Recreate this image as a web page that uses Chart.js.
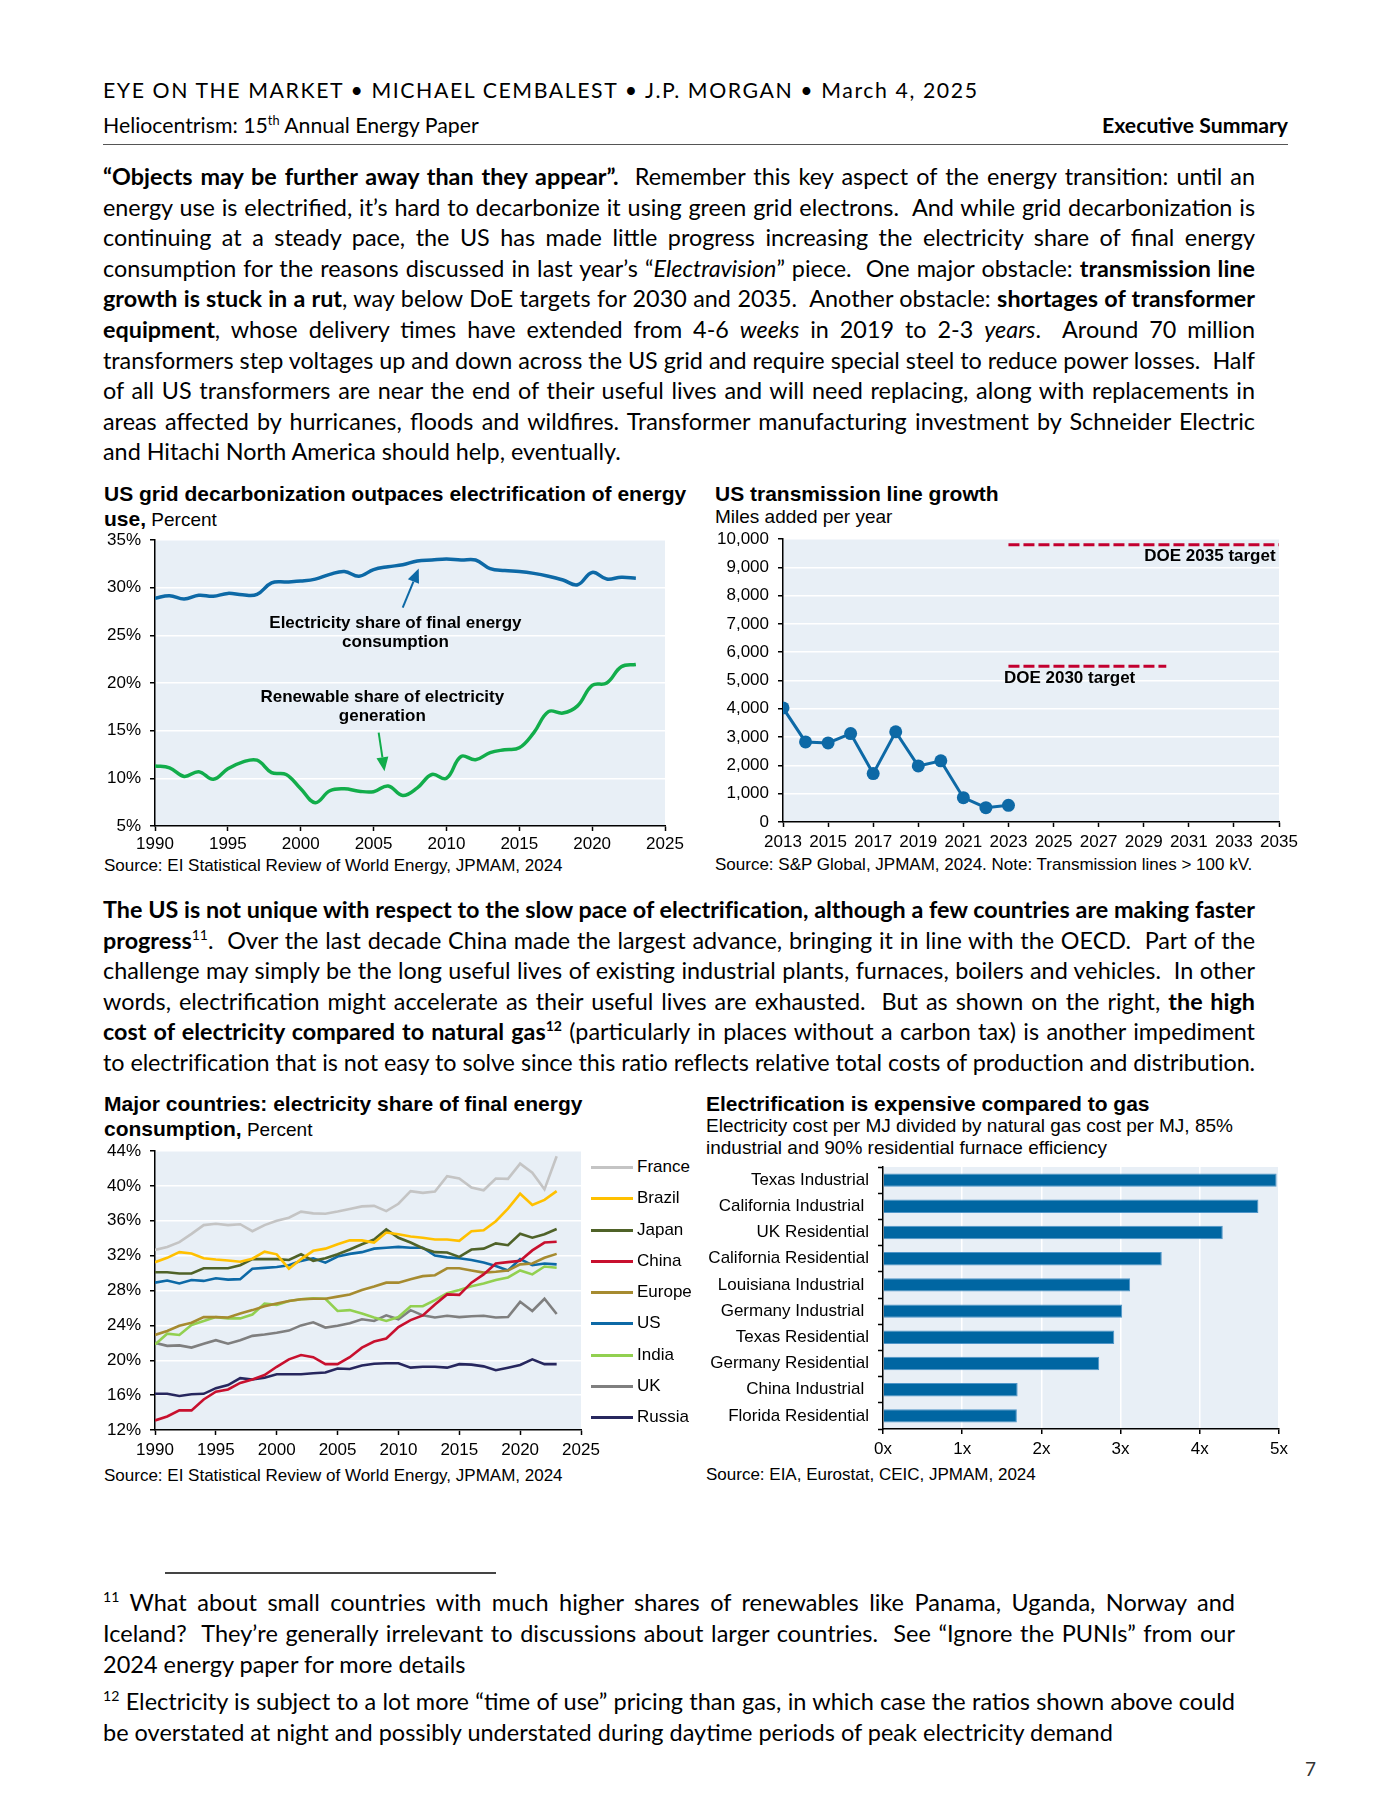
<!DOCTYPE html>
<html>
<head>
<meta charset="utf-8">
<script src="https://cdn.jsdelivr.net/npm/chart.js@4.4.1/dist/chart.umd.min.js"></script>
<style>
  html, body { margin: 0; padding: 0; background: #fff; }
  #pagina { position: relative; width: 1400px; height: 1812px; overflow: hidden; font-family: Lato, "Open Sans", sans-serif; color: #000; }
  .abs { position: absolute; white-space: nowrap; }
  .ln { position: absolute; left: 103px; height: 30px; line-height: 30px; white-space: nowrap; text-align: justify; text-align-last: justify; font-size: 20px; }
  .ln.last { text-align-last: left; }
  .ln b { font-weight: 700; }
  .tit { position: absolute; white-space: nowrap; font-family: "Liberation Sans", Arial, sans-serif; font-size: 21px; line-height: 25px; }
  .sub { font-size: 19px; font-weight: normal; }
  .src { position: absolute; white-space: nowrap; font-family: "Liberation Sans", Arial, sans-serif; font-size: 17px; line-height: 20px; }
  sup { font-size: 0.6em; line-height: 0; vertical-align: 0.65em; }
  canvas { position: absolute; }
  .leg { position: absolute; white-space: nowrap; font-family: "Liberation Sans", Arial, sans-serif; font-size: 17px; line-height: 20px; }
  .leg i { position: absolute; left: -46px; top: 9px; width: 42px; height: 3px; }
</style>
</head>
<body>
<div id="pagina">
  <div class="abs" id="cab1" style="left:103px;top:79px;line-height:22px;font-size:17px;">EYE ON THE MARKET • MICHAEL CEMBALEST • J.P. MORGAN • March 4, 2025</div>
  <div class="abs" id="cab2" style="left:103px;top:114px;line-height:22px;font-size:18px;">Heliocentrism: 15<sup>th</sup> Annual Energy Paper</div>
  <div class="abs" id="cab3" style="right:112px;top:114px;line-height:22px;font-size:18px;font-weight:700;">Executive Summary</div>
  <div class="abs" style="left:103px;top:143.5px;width:1185px;height:1.5px;background:#555;"></div>

  <div class="tit" style="left:104px;top:480.5px;"><b>US grid decarbonization outpaces electrification of energy<br>use,</b><span class="sub"> Percent</span></div>
  <div class="tit" style="left:715px;top:480.5px;"><b>US transmission line growth</b></div>
  <div class="tit sub" style="left:715px;top:503.5px;">Miles added per year</div>
  <div class="src" style="left:104px;top:856px;">Source: EI Statistical Review of World Energy, JPMAM, 2024</div>
  <div class="src" style="left:715px;top:855px;">Source: S&amp;P Global, JPMAM, 2024. Note: Transmission lines &gt; 100 kV.</div>

  <div class="tit" style="left:104px;top:1090.5px;"><b>Major countries: electricity share of final energy<br>consumption,</b><span class="sub"> Percent</span></div>
  <div class="tit" style="left:706px;top:1090.5px;"><b>Electrification is expensive compared to gas</b></div>
  <div class="tit sub" style="left:706px;top:1115px;line-height:22px;">Electricity cost per MJ divided by natural gas cost per MJ, 85%<br>industrial and 90% residential furnace efficiency</div>
  <div class="src" style="left:104px;top:1466px;">Source: EI Statistical Review of World Energy, JPMAM, 2024</div>
  <div class="src" style="left:706px;top:1465px;">Source: EIA, Eurostat, CEIC, JPMAM, 2024</div>

  <canvas id="grafica1" width="600" height="330" style="left:95px;top:528px;"></canvas>
  <canvas id="grafica2" width="600" height="330" style="left:705px;top:528px;"></canvas>
  <canvas id="grafica3" width="520" height="330" style="left:95px;top:1140px;"></canvas>
  <canvas id="grafica4" width="600" height="310" style="left:700px;top:1155px;"></canvas>
  <div id="leyenda3"></div>

  <div class="abs" style="left:165px;top:1572px;width:331px;height:1.5px;background:#444;"></div>
  <div class="abs" style="left:1305px;top:1757px;line-height:24px;font-size:19px;color:#333;">7</div>
</div>

<script>
// ---- Datos: grafica 1 (EE.UU.) ----
const anios = [1990, 1991, 1992, 1993, 1994, 1995, 1996, 1997, 1998, 1999,
               2000, 2001, 2002, 2003, 2004, 2005, 2006, 2007, 2008, 2009,
               2010, 2011, 2012, 2013, 2014, 2015, 2016, 2017, 2018, 2019,
               2020, 2021, 2022, 2023];
const usElec = [28.9, 29.15, 28.8, 29.2, 29.1, 29.4, 29.25, 29.3, 30.5, 30.6,
                30.7, 30.9, 31.4, 31.7, 31.2, 31.9, 32.2, 32.4, 32.8, 32.9,
                33.0, 32.9, 32.9, 32.0, 31.8, 31.7, 31.5, 31.2, 30.8, 30.3,
                31.6, 30.9, 31.1, 31.0];
const usRenov = [11.3, 11.1, 10.2, 10.7, 9.9, 11.0, 11.7, 11.9, 10.6, 10.4,
                 8.9, 7.45, 8.7, 8.9, 8.65, 8.6, 9.2, 8.2, 9.0, 10.4,
                 10.0, 12.3, 11.95, 12.7, 13.0, 13.2, 14.8, 17.0, 16.85, 17.6,
                 19.75, 20.0, 21.7, 21.95];
const ticksY1 = { min: 5, max: 35, paso: 5 };

// ---- Datos: grafica 2 (lineas de transmision) ----
const aniosTrans = [2013, 2014, 2015, 2016, 2017, 2018, 2019, 2020, 2021, 2022, 2023];
const millas = [4030, 2830, 2795, 3125, 1710, 3185, 1980, 2160, 860, 507, 590];
const meta2030 = 5500;
const meta2035 = 9800;
const inicioMetas = 2023;

// ---- Datos: grafica 3 (paises) ----
const paises = ['France', 'Brazil', 'Japan', 'China', 'Europe', 'US', 'India', 'UK', 'Russia'];
const coloresPaises = ['#c4c4c4', '#ffc000', '#4f6228', '#c8102e', '#a68b30', '#0d69a6', '#92d050', '#7f7f7f', '#27275e'];
const france = [32.65, 33.0, 33.55, 34.5, 35.5, 35.65, 35.5, 35.6, 34.8, 35.5,
                36.0, 36.35, 37.05, 36.85, 36.8, 37.05, 37.35, 37.65, 37.7, 37.1,
                37.95, 39.4, 39.2, 39.35, 41.1, 40.85, 39.8, 39.5, 40.85, 40.8,
                42.55, 41.5, 39.6, 43.4];
const brazil = [31.25, 31.75, 32.4, 32.25, 31.7, 31.55, 31.45, 31.3, 31.65, 32.45,
                32.15, 30.5, 31.6, 32.55, 32.8, 33.3, 33.75, 33.75, 33.5, 34.65,
                34.45, 34.2, 34.05, 33.85, 33.85, 33.7, 34.8, 34.9, 35.95, 37.4,
                39.1, 37.8, 38.4, 39.4];
const japan = [30.1, 30.1, 29.95, 29.95, 30.55, 30.55, 30.55, 30.9, 31.6, 31.6,
               31.6, 31.5, 32.15, 31.4, 31.7, 32.15, 32.7, 33.3, 33.85, 35.0,
               34.05, 33.5, 32.85, 32.4, 32.35, 31.85, 32.7, 32.8, 33.4, 33.2,
               34.5, 34.05, 34.45, 35.05];
const china = [13.1, 13.55, 14.25, 14.25, 15.5, 16.4, 16.65, 17.4, 17.8, 18.3,
               19.25, 20.1, 20.6, 20.35, 19.55, 19.55, 20.35, 21.45, 22.15, 22.5,
               23.8, 24.6, 25.15, 26.4, 27.55, 27.5, 28.9, 29.85, 31.1, 31.25,
               31.4, 32.6, 33.5, 33.6];
const europe = [22.9, 23.35, 23.95, 24.3, 24.95, 24.95, 24.9, 25.35, 25.75, 26.2,
                26.5, 26.8, 27.0, 27.05, 27.05, 27.3, 27.55, 28.05, 28.45, 28.9,
                28.9, 29.3, 29.65, 29.75, 30.55, 30.55, 30.3, 30.05, 30.15, 30.3,
                31.0, 31.1, 31.75, 32.2];
const india = [21.8, 23.05, 22.9, 24.05, 24.5, 24.95, 24.8, 24.8, 25.25, 26.5,
               26.35, 26.8, 27.0, 27.1, 27.05, 25.65, 25.75, 25.35, 24.9, 24.5,
               24.95, 26.2, 26.2, 26.9, 27.7, 28.05, 28.5, 28.8, 29.2, 29.5,
               30.3, 29.85, 30.75, 30.6];
const uk = [22.0, 21.65, 21.7, 21.45, 21.9, 22.3, 21.9, 22.3, 22.8, 22.95,
            23.15, 23.4, 24.0, 24.35, 23.75, 23.95, 24.25, 24.7, 24.5, 25.15,
            24.7, 25.75, 25.15, 24.9, 25.1, 24.95, 25.05, 25.1, 24.9, 24.95,
            26.7, 25.65, 27.05, 25.3];
const russia = [16.15, 16.15, 15.9, 16.1, 16.15, 16.8, 17.15, 17.95, 17.8, 18.0,
                18.4, 18.4, 18.4, 18.5, 18.6, 19.05, 19.0, 19.4, 19.6, 19.65,
                19.65, 19.15, 19.25, 19.25, 19.15, 19.55, 19.5, 19.3, 18.85, 19.15,
                19.45, 20.1, 19.55, 19.55];
const seriesPaises = [france, brazil, japan, china, europe, usElec, india, uk, russia];

// ---- Datos: grafica 4 (costo electricidad / gas) ----
const categoriasCosto = ['Texas Industrial', 'California Industrial ', 'UK Residential', 'California Residential',
  'Louisiana Industrial ', 'Germany Industrial ', 'Texas Residential', 'Germany Residential',
  'China Industrial ', 'Florida Residential'];
const ratioCosto = [4.97, 4.74, 4.29, 3.52, 3.12, 3.02, 2.92, 2.73, 1.70, 1.69];

// ---- Textos de las notas ----
const notaElec = { lineas: ['Electricity share of final energy', 'consumption'], x: 2006.5, y: 26.3 };
const notaRenov = { lineas: ['Renewable share of electricity', 'generation'], x: 2005.6, y: 18.5 };
const flechaElec = { desde: [2007.0, 27.9], hasta: [2008.1, 32.0] };
const flechaRenov = { desde: [2005.35, 14.8], hasta: [2005.75, 10.75] };
const etiqueta2035 = { texto: 'DOE 2035 target', x: 2034.85, y: 9375, alinear: 'right' };
const etiqueta2030 = { texto: 'DOE 2030 target', x: 2022.8, y: 5094, alinear: 'left' };

// ---- Texto del cuerpo ----
const parrafo1 = [
  '<b>“Objects may be further away than they appear”.</b> &nbsp;Remember this key aspect of the energy transition: until an',
  'energy use is electrified, it’s hard to decarbonize it using green grid electrons. &nbsp;And while grid decarbonization is',
  'continuing at a steady pace, the US has made little progress increasing the electricity share of final energy',
  'consumption for the reasons discussed in last year’s “<i>Electravision</i>” piece. &nbsp;One major obstacle: <b>transmission line</b>',
  '<b>growth is stuck in a rut</b>, way below DoE targets for 2030 and 2035. &nbsp;Another obstacle: <b>shortages of transformer</b>',
  '<b>equipment</b>, whose delivery times have extended from 4-6 <i>weeks</i> in 2019 to 2-3 <i>years</i>. &nbsp;Around 70 million',
  'transformers step voltages up and down across the US grid and require special steel to reduce power losses. &nbsp;Half',
  'of all US transformers are near the end of their useful lives and will need replacing, along with replacements in',
  'areas affected by hurricanes, floods and wildfires. Transformer manufacturing investment by Schneider Electric',
  'and Hitachi North America should help, eventually.'
];
const parrafo2 = [
  '<b>The US is not unique with respect to the slow pace of electrification, although a few countries are making faster</b>',
  '<b>progress</b><sup>11</sup>. &nbsp;Over the last decade China made the largest advance, bringing it in line with the OECD. &nbsp;Part of the',
  'challenge may simply be the long useful lives of existing industrial plants, furnaces, boilers and vehicles. &nbsp;In other',
  'words, electrification might accelerate as their useful lives are exhausted. &nbsp;But as shown on the right, <b>the high</b>',
  '<b>cost of electricity compared to natural gas<sup>12</sup></b> (particularly in places without a carbon tax) is another impediment',
  'to electrification that is not easy to solve since this ratio reflects relative total costs of production and distribution.'
];
const notasPie = [
  '<sup>11</sup> What about small countries with much higher shares of renewables like Panama, Uganda, Norway and',
  'Iceland? &nbsp;They’re generally irrelevant to discussions about larger countries. &nbsp;See “Ignore the PUNIs” from our',
  '2024 energy paper for more details',
  '<sup>12</sup> Electricity is subject to a lot more “time of use” pricing than gas, in which case the ratios shown above could',
  'be overstated at night and possibly understated during daytime periods of peak electricity demand'
];

const pagina = document.getElementById('pagina');

function ponerLineas(lineas, centros, ancho, ultimas, clase) {
  lineas.forEach((html, i) => {
    const d = document.createElement('div');
    d.className = 'ln ' + clase + (ultimas.includes(i) ? ' last' : '');
    d.innerHTML = html;
    d.style.top = (centros[i] - 15) + 'px';
    if (!ultimas.includes(i)) d.style.width = ancho + 'px';
    pagina.appendChild(d);
  });
}
ponerLineas(parrafo1, parrafo1.map((_, i) => 176 + i * 30.6), 1152, [9], 'cuerpo');
ponerLineas(parrafo2, parrafo2.map((_, i) => 909 + i * 30.5), 1152, [], 'cuerpo');
ponerLineas(notasPie, [1602, 1633, 1664, 1701, 1732], 1132, [2, 4], 'pie');

// Ajustar tamaño de letra para que las lineas midan como en la pagina original
function ajustarFuente(clase, muestra, objetivo) {
  const m = muestra.getBoundingClientRect().width;
  const tam = parseFloat(getComputedStyle(muestra).fontSize) * objetivo / m;
  const els = document.querySelectorAll('.' + clase);
  els.forEach(e => e.style.fontSize = tam + 'px');
  els.forEach(e => {
    if (!e.classList.contains('last') && e.scrollWidth > e.clientWidth) {
      const exceso = e.scrollWidth - e.clientWidth + 2;
      e.style.letterSpacing = (-exceso / e.textContent.length) + 'px';
    }
  });
}
ajustarFuente('cuerpo', document.querySelectorAll('.cuerpo.last')[0], 518);
ajustarFuente('pie', document.querySelectorAll('.pie.last')[1], 1010);

// Cabecera
const cab2 = document.getElementById('cab2');
cab2.style.fontSize = (18 * 376 / cab2.getBoundingClientRect().width) + 'px';
const cab3 = document.getElementById('cab3');
cab3.style.fontSize = (18 * 186 / cab3.getBoundingClientRect().width) + 'px';
const cab1 = document.getElementById('cab1');
cab1.style.fontSize = cab2.style.fontSize;
const w0 = cab1.getBoundingClientRect().width;
cab1.style.letterSpacing = ((874 - w0) / (cab1.textContent.length - 1)) + 'px';

// ---- Graficas ----
Chart.defaults.font.family = '"Liberation Sans", Arial, sans-serif';
Chart.defaults.font.size = 17;
Chart.defaults.color = '#000';

const fondoAzul = '#e8eff6';
const azul = '#0d69a6';
const verde = '#12ad4b';
const rojoMeta = '#c2002f';

const fondoPlot = {
  id: 'fondoPlot',
  beforeDraw(chart) {
    const { ctx, chartArea: a } = chart;
    ctx.save();
    ctx.fillStyle = fondoAzul;
    ctx.fillRect(a.left, a.top, a.right - a.left, a.bottom - a.top);
    ctx.restore();
  }
};

function flecha(ctx, x1, y1, x2, y2, color) {
  const ang = Math.atan2(y2 - y1, x2 - x1);
  const largo = 14, medio = 6;
  ctx.strokeStyle = color;
  ctx.fillStyle = color;
  ctx.lineWidth = 2;
  ctx.beginPath();
  ctx.moveTo(x1, y1);
  ctx.lineTo(x2 - largo * Math.cos(ang), y2 - largo * Math.sin(ang));
  ctx.stroke();
  ctx.beginPath();
  ctx.moveTo(x2, y2);
  ctx.lineTo(x2 - largo * Math.cos(ang) + medio * Math.sin(ang), y2 - largo * Math.sin(ang) - medio * Math.cos(ang));
  ctx.lineTo(x2 - largo * Math.cos(ang) - medio * Math.sin(ang), y2 - largo * Math.sin(ang) + medio * Math.cos(ang));
  ctx.closePath();
  ctx.fill();
}

const notasGrafica1 = {
  id: 'notasGrafica1',
  afterDatasetsDraw(chart) {
    const { ctx, scales: { x, y } } = chart;
    ctx.save();
    ctx.font = 'bold 17px "Liberation Sans", Arial, sans-serif';
    ctx.fillStyle = '#000';
    ctx.textAlign = 'center';
    ctx.textBaseline = 'middle';
    [notaElec, notaRenov].forEach(n => {
      n.lineas.forEach((t, i) => ctx.fillText(t, x.getPixelForValue(n.x), y.getPixelForValue(n.y) + i * 19.5));
    });
    flecha(ctx, x.getPixelForValue(flechaElec.desde[0]), y.getPixelForValue(flechaElec.desde[1]),
      x.getPixelForValue(flechaElec.hasta[0]), y.getPixelForValue(flechaElec.hasta[1]), azul);
    flecha(ctx, x.getPixelForValue(flechaRenov.desde[0]), y.getPixelForValue(flechaRenov.desde[1]),
      x.getPixelForValue(flechaRenov.hasta[0]), y.getPixelForValue(flechaRenov.hasta[1]), verde);
    ctx.restore();
  }
};

const notasGrafica2 = {
  id: 'notasGrafica2',
  afterDatasetsDraw(chart) {
    const { ctx, scales: { x, y } } = chart;
    ctx.save();
    ctx.font = 'bold 17px "Liberation Sans", Arial, sans-serif';
    ctx.fillStyle = '#000';
    ctx.textBaseline = 'middle';
    [etiqueta2035, etiqueta2030].forEach(e => {
      ctx.textAlign = e.alinear;
      ctx.fillText(e.texto, x.getPixelForValue(e.x), y.getPixelForValue(e.y));
    });
    ctx.restore();
  }
};

const borde = { color: '#000', width: 1.5 };
const sinLeyenda = { legend: { display: false }, tooltip: { enabled: false } };
// el eje vertical fija su ancho y no empuja el area del grafico hacia abajo
const ejeVertical = ancho => s => { s.width = ancho; s.paddingTop = 0; s.paddingBottom = 0; };

// Grafica 1
new Chart(document.getElementById('grafica1'), {
  type: 'line',
  data: {
    datasets: [
      { data: anios.map((a, i) => ({ x: a, y: usElec[i] })), borderColor: azul, borderWidth: 3.5, tension: 0.4, pointRadius: 0 },
      { data: anios.map((a, i) => ({ x: a, y: usRenov[i] })), borderColor: verde, borderWidth: 3.5, tension: 0.4, pointRadius: 0 }
    ]
  },
  options: {
    responsive: false, animation: false, devicePixelRatio: 1,
    layout: { padding: { top: 12, right: 30, left: 0, bottom: 0 } },
    plugins: sinLeyenda,
    scales: {
      x: {
        type: 'linear', min: 1990, max: 2025,
        afterFit: s => { s.height = 32; },
        ticks: { stepSize: 5, callback: v => String(v), padding: 3, maxRotation: 0 },
        grid: { drawOnChartArea: false, tickLength: 5, tickColor: '#000', tickWidth: 1.5 },
        border: borde
      },
      y: {
        min: ticksY1.min, max: ticksY1.max,
        afterFit: ejeVertical(60),
        ticks: { stepSize: ticksY1.paso, callback: v => v + '%', padding: 9 },
        grid: { color: '#fff', lineWidth: 1.5, tickLength: 5, tickColor: '#000', tickWidth: 1.5 },
        border: borde
      }
    }
  },
  plugins: [fondoPlot, notasGrafica1]
});

// Grafica 2
new Chart(document.getElementById('grafica2'), {
  type: 'line',
  data: {
    datasets: [
      { data: aniosTrans.map((a, i) => ({ x: a, y: millas[i] })), borderColor: azul, backgroundColor: azul,
        borderWidth: 3, pointRadius: 6.5, pointBorderWidth: 0, pointBackgroundColor: azul, tension: 0 },
      { data: [{ x: inicioMetas, y: meta2035 }, { x: 2035, y: meta2035 }], borderColor: rojoMeta, borderWidth: 3,
        borderDash: [11, 4], pointRadius: 0 },
      { data: [{ x: inicioMetas, y: meta2030 }, { x: 2030, y: meta2030 }], borderColor: rojoMeta, borderWidth: 3,
        borderDash: [11, 4], pointRadius: 0 }
    ]
  },
  options: {
    responsive: false, animation: false, devicePixelRatio: 1,
    layout: { padding: { top: 11, right: 26, left: 0, bottom: 0 } },
    plugins: sinLeyenda,
    scales: {
      x: {
        type: 'linear', min: 2013, max: 2035,
        afterFit: s => { s.height = 36; },
        ticks: { stepSize: 2, callback: v => String(v), padding: 5, maxRotation: 0, autoSkip: false },
        grid: { drawOnChartArea: false, tickLength: 5, tickColor: '#000', tickWidth: 1.5 },
        border: borde
      },
      y: {
        min: 0, max: 10000,
        afterFit: ejeVertical(78),
        ticks: { stepSize: 1000, callback: v => v.toLocaleString('en-US'), padding: 9 },
        grid: { color: '#fff', lineWidth: 1.5, tickLength: 5, tickColor: '#000', tickWidth: 1.5 },
        border: borde
      }
    }
  },
  plugins: [fondoPlot, notasGrafica2]
});

// Grafica 3
new Chart(document.getElementById('grafica3'), {
  type: 'line',
  data: {
    datasets: paises.map((p, k) => ({
      label: p,
      data: anios.map((a, i) => ({ x: a, y: seriesPaises[k][i] })),
      borderColor: coloresPaises[k], borderWidth: 2.6, pointRadius: 0, tension: 0
    }))
  },
  options: {
    responsive: false, animation: false, devicePixelRatio: 1,
    layout: { padding: { top: 11, right: 34, left: 0, bottom: 0 } },
    plugins: sinLeyenda,
    scales: {
      x: {
        type: 'linear', min: 1990, max: 2025,
        afterFit: s => { s.height = 40; },
        ticks: { stepSize: 5, callback: v => String(v), padding: 5, maxRotation: 0 },
        grid: { drawOnChartArea: false, tickLength: 5, tickColor: '#000', tickWidth: 1.5 },
        border: borde
      },
      y: {
        min: 12, max: 44,
        afterFit: ejeVertical(60),
        ticks: { stepSize: 4, callback: v => v + '%', padding: 9 },
        grid: { color: '#fff', lineWidth: 1.5, tickLength: 5, tickColor: '#000', tickWidth: 1.5 },
        border: borde
      }
    }
  },
  plugins: [fondoPlot]
});

// Leyenda de la grafica 3
const leyenda = document.getElementById('leyenda3');
paises.forEach((p, k) => {
  const d = document.createElement('div');
  d.className = 'leg';
  d.style.left = '637px';
  d.style.top = (1157 + k * 31.25) + 'px';
  d.innerHTML = '<i style="background:' + coloresPaises[k] + '"></i>' + p;
  leyenda.appendChild(d);
});

// Grafica 4
new Chart(document.getElementById('grafica4'), {
  type: 'bar',
  data: {
    labels: categoriasCosto,
    datasets: [{ data: ratioCosto, backgroundColor: '#0066a2', borderColor: '#4f95c8', borderWidth: 1,
      barPercentage: 0.51, categoryPercentage: 1 }]
  },
  options: {
    indexAxis: 'y',
    responsive: false, animation: false, devicePixelRatio: 1,
    layout: { padding: { top: 12, right: 21, left: 0, bottom: 0 } },
    plugins: sinLeyenda,
    scales: {
      x: {
        min: 0, max: 5,
        afterFit: s => { s.height = 36; },
        ticks: { stepSize: 1, callback: v => v + 'x', padding: 5 },
        grid: { color: '#fff', lineWidth: 1.5, tickLength: 5, tickColor: '#000', tickWidth: 1.5 },
        border: borde
      },
      y: {
        afterFit: ejeVertical(183),
        ticks: { padding: 9, autoSkip: false },
        grid: { drawOnChartArea: false, offset: true, tickLength: 5, tickColor: '#000', tickWidth: 1.5 },
        border: borde
      }
    }
  },
  plugins: [fondoPlot]
});
</script>
</body>
</html>
